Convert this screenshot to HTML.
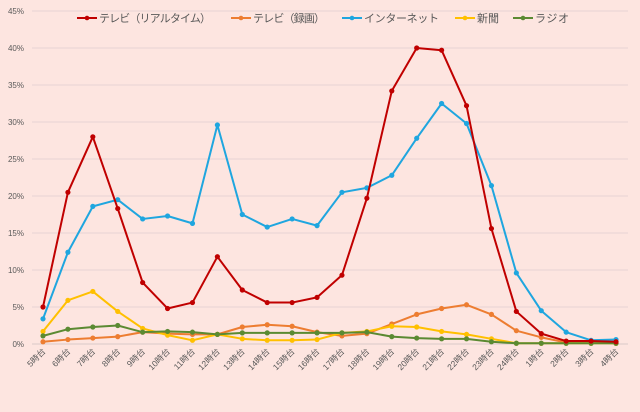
<!DOCTYPE html>
<html><head><meta charset="utf-8"><style>
html,body{margin:0;padding:0;background:#fde5e0;}
svg{display:block;font-family:"Liberation Sans","Noto Sans CJK JP",sans-serif;}
</style></head><body>
<svg id="chart" width="640" height="412" viewBox="0 0 640 412">
<rect x="0" y="0" width="640" height="412" fill="#fde5e0"/>
<g id="grid"></g><g id="ylabels"></g><g id="xlabels"></g><g id="series"></g><g id="legend"></g>
</svg>
<script>
const categories=["5時台","6時台","7時台","8時台","9時台","10時台","11時台","12時台","13時台","14時台","15時台","16時台","17時台","18時台","19時台","20時台","21時台","22時台","23時台","24時台","1時台","2時台","3時台","4時台"];
const tvRealtime=[5.0,20.5,28.0,18.3,8.3,4.8,5.6,11.8,7.3,5.6,5.6,6.3,9.3,19.7,34.2,40.0,39.7,32.2,15.6,4.4,1.4,0.4,0.4,0.3];
const tvRecorded=[0.3,0.6,0.8,1.0,1.6,1.4,1.3,1.3,2.3,2.6,2.4,1.6,1.1,1.4,2.7,4.0,4.8,5.3,4.0,1.8,0.9,0.2,0.2,0.1];
const internet=[3.4,12.4,18.6,19.5,16.9,17.3,16.3,29.6,17.5,15.8,16.9,16.0,20.5,21.1,22.8,27.8,32.5,29.8,21.4,9.6,4.5,1.6,0.5,0.6];
const newspaper=[1.7,5.9,7.1,4.4,2.1,1.2,0.5,1.3,0.7,0.5,0.5,0.6,1.5,1.7,2.4,2.3,1.7,1.3,0.7,0.1,0.1,0.1,0.1,0.1];
const radio=[1.1,2.0,2.3,2.5,1.6,1.7,1.6,1.3,1.5,1.5,1.5,1.5,1.5,1.6,1.0,0.8,0.7,0.7,0.3,0.1,0.1,0.1,0.1,0.1];
const yTicks=[0,5,10,15,20,25,30,35,40,45];
const seriesNames=["テレビ（リアルタイム）","テレビ（録画）","インターネット","新聞","ラジオ"];

const NS="http://www.w3.org/2000/svg";
const X0=43,X1=616,Y0=344,Y45=11;
const x=i=>X0+i*(X1-X0)/(categories.length-1);
const y=v=>Y0-v*(Y0-Y45)/45;
function mk(tag,attrs,parent){const e=document.createElementNS(NS,tag);for(const k in attrs)e.setAttribute(k,attrs[k]);parent.appendChild(e);return e;}
const grid=document.getElementById('grid'),yl=document.getElementById('ylabels'),xl=document.getElementById('xlabels'),sg=document.getElementById('series'),lg=document.getElementById('legend');
yTicks.forEach(t=>{
  const l=mk('line',{x1:32,x2:628,y1:y(t),y2:y(t),stroke:t===0?'#d9c9c9':'#e6d3d3','stroke-width':1},grid);
  
  
  const tx=mk('text',{x:24,y:y(t)+3,'text-anchor':'end','font-size':8,fill:'#595959'},yl);
  tx.textContent=t+'%';
  
  
});
categories.forEach((c,i)=>{
  const tx=mk('text',{x:x(i)+3,y:352,'text-anchor':'end','font-size':8.5,fill:'#595959',transform:`rotate(-45 ${x(i)+3} 352)`},xl);
  tx.textContent=c;
  
  
});
const colors=["#c00000","#ed7d31","#1fa6df","#ffc000","#5b8a32"];
const data=[tvRealtime,tvRecorded,internet,newspaper,radio];
const drawOrder=[1,3,4,2,0];
drawOrder.forEach(si=>{
  const g=mk('g',{},sg);
  
  
  const pts=data[si].map((v,i)=>x(i)+','+y(v)).join(' ');
  const pl=mk('polyline',{points:pts,fill:'none',stroke:colors[si],'stroke-width':2,'stroke-linejoin':'round'},g);
  
  
  data[si].forEach((v,i)=>{
    const c=mk('circle',{cx:x(i),cy:y(v),r:2.6,fill:colors[si]},g);
    
    
  });
});
const lx=[77,231,342,455,513];
const lw=[112,72,75,22,34];
seriesNames.forEach((n,i)=>{
  const g=mk('g',{},lg);
  
  
  mk('line',{x1:lx[i],x2:lx[i]+20,y1:18,y2:18,stroke:colors[i],'stroke-width':2},g);
  mk('circle',{cx:lx[i]+10,cy:18,r:2.3,fill:colors[i]},g);
  const t=mk('text',{x:lx[i]+22,y:22,'font-size':11,fill:'#595959',textLength:lw[i],lengthAdjust:'spacing'},g);
  t.textContent=n;
});
</script>
</body></html>
